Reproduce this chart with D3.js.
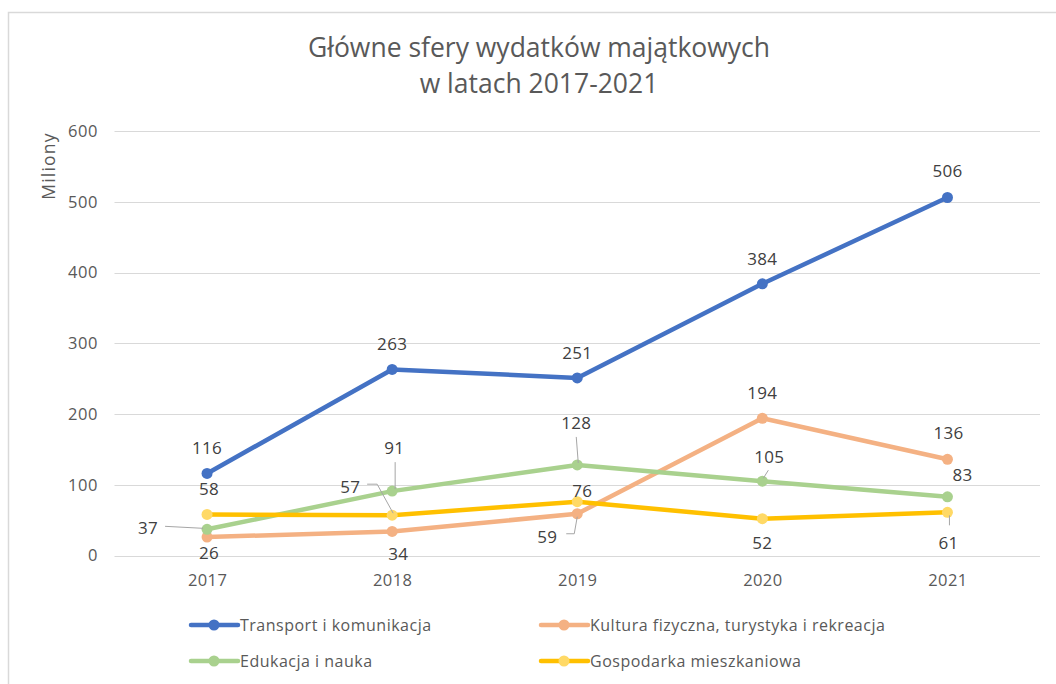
<!DOCTYPE html>
<html><head><meta charset="utf-8">
<script src="https://cdn.jsdelivr.net/npm/d3@7"></script>
<style>body{margin:0;background:#fff}svg{display:block}text{font-family:"Open Sans","Noto Sans",sans-serif}</style>
</head><body><svg id="c" width="1056" height="684"></svg>
<script>
const years = ["2017","2018","2019","2020","2021"];
const seriesNames = ["Transport i komunikacja","Kultura fizyczna, turystyka i rekreacja","Edukacja i nauka","Gospodarka mieszkaniowa"];
const transport = [116,263,251,384,506];
const kultura = [26,34,59,194,136];
const edukacja = [37,91,128,105,83];
const gospodarka = [58,57,76,52,61];
const yTicks = [0,100,200,300,400,500,600];

const colors = ["#4472C4","#F4B183","#A9D18E","#FFC000"];
const markerColors = ["#4472C4","#F4B183","#A9D18E","#FFD966"];
// label placement relative to point: [dx, dy, leader polyline]
const labelPos = [
  [[0,-25],[0,-25],[0,-25],[0,-25],[0,-26]],
  [[2,16],[6,23],[-30,23,[[-11,20],[-3,20],[0,3]]],[0,-25],[1,-26]],
  [[-59,-1,[[-42,-3],[-4,-1]]],[2,-43,[[3,-29],[3,-2]]],[-1,-42,[[-1,-28],[1,-2]]],[7,-24,[[6,-11],[1,-3]]],[15,-22]],
  [[2,-25],[-42,-28,[[-25,-31],[-15,-31],[1,-2]]],[5,-11],[0,24],[1,31,[[2,3],[2,13]]]]
];
const data = [transport,kultura,edukacja,gospodarka];

const svg = d3.select("#c");
// chart frame
svg.append("rect").attr("x",8.5).attr("y",12.5).attr("width",1060).attr("height",700)
  .attr("fill","none").attr("stroke","#d9d9d9").attr("stroke-width",1.5);

const x = d3.scalePoint().domain(years).range([114.5,1040]).padding(0.5);
const y = d3.scaleLinear().domain([0,600]).range([555.5,131]);

// title
const title = svg.append("text").attr("text-anchor","middle").attr("fill","#595959").style("font-size","26.5px");
title.append("tspan").attr("x",539).attr("y",57).text("Główne sfery wydatków majątkowych");
title.append("tspan").attr("x",539).attr("y",93).text("w latach 2017-2021");

// grid
svg.append("g").selectAll("line").data(yTicks).join("line")
  .attr("x1",114.5).attr("x2",1040).attr("y1",d=>Math.round(y(d))+0.5).attr("y2",d=>Math.round(y(d))+0.5)
  .attr("stroke","#d9d9d9").attr("stroke-width",1);

// y axis labels
const yAxis = d3.axisLeft(y).tickValues(yTicks).tickSize(0).tickPadding(0);
const gy = svg.append("g").attr("transform","translate(98,0)").call(yAxis);
gy.select(".domain").remove();
gy.selectAll("text").attr("fill","#595959").style("font-size","16.5px").style("letter-spacing","0.6px").style("font-family","'Open Sans'");

// x axis labels
const xAxis = d3.axisBottom(x).tickSize(0).tickPadding(0);
const gx = svg.append("g").attr("transform","translate(0,574)").call(xAxis);
gx.select(".domain").remove();
gx.selectAll("text").attr("fill","#595959").style("font-size","16.5px").style("letter-spacing","0.4px").style("font-family","'Open Sans'");

// y title
svg.append("text").attr("transform","translate(55,166) rotate(-90)").attr("text-anchor","middle")
  .attr("fill","#595959").style("font-size","17.5px").style("letter-spacing","1.2px").text("Miliony");

const line = d3.line().x((d,i)=>x(years[i])).y(d=>y(d));
data.forEach((vals,s)=>{
  const g = svg.append("g");
  g.append("path").datum(vals).attr("d",line).attr("fill","none").attr("stroke",colors[s])
    .attr("stroke-width",4.5).attr("stroke-linejoin","round").attr("stroke-linecap","round");
  g.selectAll("circle").data(vals).join("circle")
    .attr("cx",(d,i)=>x(years[i])).attr("cy",d=>y(d)).attr("r",5.5).attr("fill",markerColors[s]);
});

// labels
const lg = svg.append("g");
data.forEach((vals,s)=>{
  vals.forEach((v,i)=>{
    const px = x(years[i]), py = y(v);
    const p = labelPos[s][i];
    if (p[2]) {
      lg.append("polyline").attr("points",p[2].map(q=>[px+q[0],py+q[1]].join(",")).join(" "))
        .attr("fill","none").attr("stroke","#a6a6a6").attr("stroke-width",1);
    }
    lg.append("text").attr("x",px+p[0]).attr("y",py+p[1]).attr("dy","0.35em")
      .attr("text-anchor","middle").attr("fill","#404040").style("font-size","17px").style("letter-spacing","0.3px").text(v);
  });
});

// legend
const legendPos = [[191,625],[541,625],[191,661],[541,661]];
seriesNames.forEach((n,s)=>{
  const [lx,ly] = legendPos[s];
  const g = svg.append("g");
  g.append("line").attr("x1",lx).attr("x2",lx+47).attr("y1",ly).attr("y2",ly)
    .attr("stroke",colors[s]).attr("stroke-width",4.5).attr("stroke-linecap","round");
  g.append("circle").attr("cx",lx+23).attr("cy",ly).attr("r",5.5).attr("fill",markerColors[s]);
  g.append("text").attr("x",lx+49).attr("y",ly).attr("dy","0.35em").attr("fill","#595959")
    .style("font-size","16px").style("letter-spacing","0.5px").text(n);
});
</script></body></html>
